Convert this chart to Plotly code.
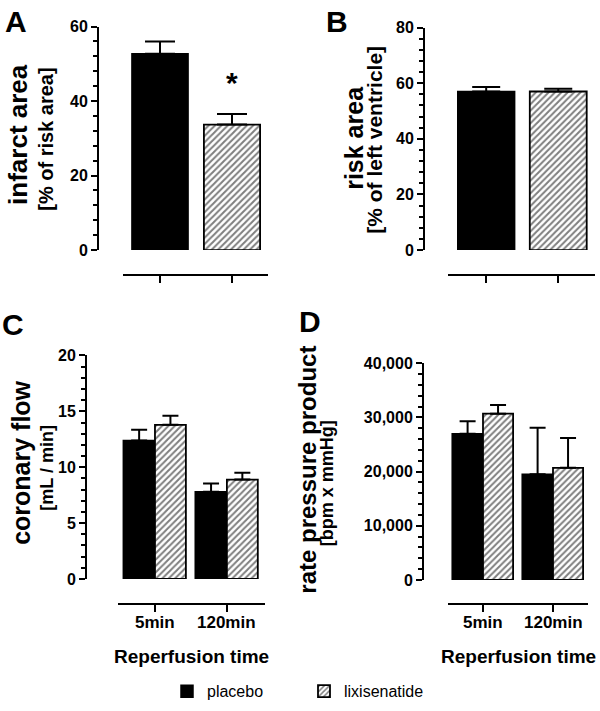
import plotly.graph_objects as go

# ---------------- data ----------------
groups = ["placebo", "lixisenatide"]
# Panel A: infarct area [% of risk area]
infarct_mean = [52.7, 33.7]
infarct_err = [3.3, 2.8]
# Panel B: risk area [% of left ventricle]
risk_mean = [57.0, 57.0]
risk_err = [1.6, 1.0]
# Panels C / D
times = ["5min", "120min"]
flow_placebo = [12.4, 7.8]
flow_placebo_err = [0.95, 0.75]
flow_lixi = [13.8, 8.9]
flow_lixi_err = [0.8, 0.6]
rpp_placebo = [27000, 19500]
rpp_placebo_err = [2300, 8600]
rpp_lixi = [30700, 20700]
rpp_lixi_err = [1600, 5500]

FONT = "Liberation Sans, Arial, sans-serif"
W, H = 600, 711


def px(x):
    return x / W


def py(y):
    return 1 - y / H


solid = dict(color="black", line=dict(color="black", width=1.5))
hatch = dict(color="white", line=dict(color="black", width=1.8),
             pattern=dict(shape="/", fgcolor="black", bgcolor="white", size=4.5, solidity=0.45))

fig = go.Figure()


def err(vals, width):
    return dict(type="data", symmetric=False, array=vals, arrayminus=[0] * len(vals),
                color="black", thickness=2, width=width)


# Panel A
fig.add_trace(go.Bar(x=[0], y=[infarct_mean[0]], width=0.78, offset=-0.39, marker=solid,
                     error_y=err([infarct_err[0]], 15), name=groups[0], xaxis="x", yaxis="y"))
fig.add_trace(go.Bar(x=[1], y=[infarct_mean[1]], width=0.78, offset=-0.39, marker=hatch,
                     error_y=err([infarct_err[1]], 15), name=groups[1], xaxis="x", yaxis="y"))
# Panel B
fig.add_trace(go.Bar(x=[0], y=[risk_mean[0]], width=0.79, offset=-0.395, marker=solid,
                     error_y=err([risk_err[0]], 14), xaxis="x2", yaxis="y2", showlegend=False))
fig.add_trace(go.Bar(x=[1], y=[risk_mean[1]], width=0.79, offset=-0.395, marker=hatch,
                     error_y=err([risk_err[1]], 14), xaxis="x2", yaxis="y2", showlegend=False))
# Panel C
fig.add_trace(go.Bar(x=[0, 1], y=flow_placebo, width=0.44, offset=-0.44, marker=solid,
                     error_y=err(flow_placebo_err, 8), xaxis="x3", yaxis="y3", showlegend=False))
fig.add_trace(go.Bar(x=[0, 1], y=flow_lixi, width=0.43, offset=0.0, marker=hatch,
                     error_y=err(flow_lixi_err, 8), xaxis="x3", yaxis="y3", showlegend=False))
# Panel D
fig.add_trace(go.Bar(x=[0, 1], y=rpp_placebo, width=0.44, offset=-0.44, marker=solid,
                     error_y=err(rpp_placebo_err, 8), xaxis="x4", yaxis="y4", showlegend=False))
fig.add_trace(go.Bar(x=[0, 1], y=rpp_lixi, width=0.43, offset=0.0, marker=hatch,
                     error_y=err(rpp_lixi_err, 8), xaxis="x4", yaxis="y4", showlegend=False))

tickfont = dict(family=FONT, size=16, color="black", weight="bold")


def xax(x0, x1, ypos, rng):
    return dict(domain=[px(x0), px(x1)], range=rng, anchor="free", position=py(ypos),
                showline=True, linewidth=2, linecolor="black", ticks="outside", ticklen=7,
                tickwidth=2, tickcolor="black", tickmode="array", tickvals=[0, 1],
                showticklabels=False, showgrid=False, zeroline=False, fixedrange=True)


def yax(xpos, y0, y1, rng, dtick, mdtick, fmt=None):
    d = dict(domain=[py(y0), py(y1)], range=rng, anchor="free", position=px(xpos),
             showline=True, linewidth=2, linecolor="black", ticks="outside", ticklen=6,
             tickwidth=2, tickcolor="black", dtick=dtick, tick0=0,
             minor=dict(dtick=mdtick, tick0=0, ticks="outside", ticklen=4, tickwidth=2,
                        tickcolor="black", showgrid=False),
             showgrid=False, zeroline=False, tickfont=tickfont, fixedrange=True)
    if fmt:
        d.update(tickformat=fmt)
    return d


fig.update_layout(
    xaxis=xax(123, 268, 274, [-0.514, 1.5]),
    yaxis=yax(98, 248, 19, [0, 60], 20, 4),
    xaxis2=xax(448, 595, 274, [-0.53, 1.51]),
    yaxis2=yax(424, 248, 20, [0, 80], 20, 4),
    xaxis3=xax(118, 265, 611, [-0.514, 1.53]),
    yaxis3=yax(86, 585, 356, [0, 20], 5, 1),
    xaxis4=xax(448, 588, 611, [-0.5, 1.5]),
    yaxis4=yax(423, 586, 364, [0, 40000], 10000, 2000, fmt=",d"),
    width=W, height=H, margin=dict(l=0, r=0, t=0, b=0),
    paper_bgcolor="white", plot_bgcolor="rgba(0,0,0,0)",
    barmode="overlay", font=dict(family=FONT, color="black"),
    legend=dict(orientation="h", x=px(167), xanchor="left", y=py(700), yanchor="middle",
                font=dict(family=FONT, size=16, color="black"),
                entrywidth=92, entrywidthmode="pixels", bgcolor="rgba(0,0,0,0)"),
)


def ann(text, x, y, size, angle=0, bold=True, yanchor="middle", xref="paper"):
    fig.add_annotation(text=text, x=px(x) if xref == "paper" else x, y=py(y), xref=xref,
                       yref="paper", showarrow=False, textangle=angle, xanchor="center",
                       yanchor=yanchor,
                       font=dict(family=FONT, size=size, color="black",
                                 weight="bold" if bold else "normal"))


# panel letters
ann("A", 16, 14, 30)
ann("B", 337, 14, 30)
ann("C", 13, 324, 30)
ann("D", 310, 321, 30)
# y-axis titles
ann("infarct area", 18, 130, 26, -90)
ann("[% of risk area]", 46, 135, 20, -90)
ann("risk area", 354, 133, 25, -90)
ann("[% of left ventricle]", 375, 135, 21, -90)
ann("coronary flow", 21, 466, 25, -90)
ann("[mL / min]", 47, 471, 18, -90)
ann("rate pressure product", 308, 473, 24, -90)
ann("[bpm x mmHg]", 327, 487, 18, -90)
# category labels and x titles for C / D
for i, t in enumerate(times):
    ann(t, i, 630, 17, xref="x3")
    ann(t, i, 630, 17, xref="x4")
ann("Reperfusion time", 191, 664, 19)
ann("Reperfusion time", 518, 664, 19)

# significance marker on panel A lixisenatide bar
fig.add_annotation(text="*", x=1, y=infarct_mean[1] + infarct_err[1] + 8.5, xref="x", yref="y",
                   showarrow=False, xanchor="center", yanchor="middle",
                   font=dict(family=FONT, size=30, color="black", weight="bold"))

css_js = (
    "document.documentElement.style.cssText='margin:0;padding:0;overflow:hidden;';"
    "document.body.style.cssText='margin:0;padding:0;overflow:hidden;';"
)
fig.write_html("out.html", post_script=css_js, config={"displayModeBar": False})
